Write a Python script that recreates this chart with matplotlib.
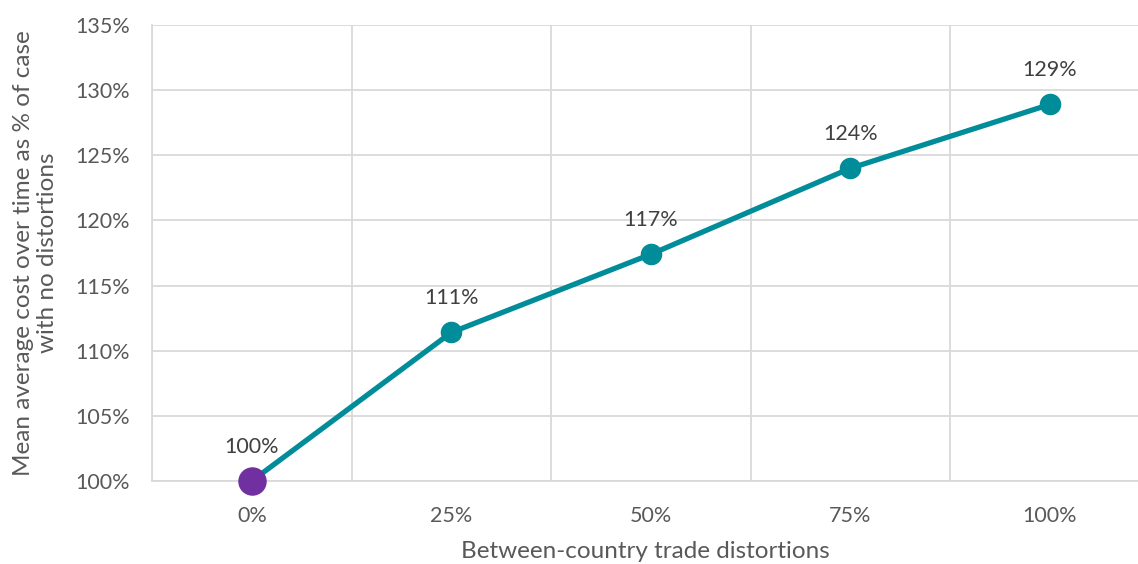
import matplotlib
matplotlib.use("Agg")
import matplotlib.pyplot as plt
from matplotlib.ticker import FuncFormatter, MultipleLocator

plt.rcParams['font.family'] = ['Lato', 'DejaVu Sans']

categories = ["0%", "25%", "50%", "75%", "100%"]
cost_pct = [100.0, 111.4, 117.4, 124.0, 128.9]

teal = "#008C99"
purple = "#7030A0"
grid_col = "#D9D9D9"
tick_col = "#595959"
label_col = "#404040"

fig = plt.figure(figsize=(11.38, 5.64), dpi=100)
W, H = 1138, 564
ax = fig.add_axes([152 / W, (H - 481) / H, (W - 152) / W, (481 - 25) / H])

x = list(range(len(categories)))
ax.plot(x, cost_pct, color=teal, lw=3.8, zorder=3, solid_capstyle="round", clip_on=False)
ax.plot(x[1:], cost_pct[1:], "o", color=teal, ms=14.5, zorder=4, clip_on=False)
ax.plot(x[:1], cost_pct[:1], "o", color=purple, ms=19.5, zorder=5, clip_on=False)

for xi, v in zip(x, cost_pct):
    ax.annotate(f"{round(v):.0f}%", (xi, v), xytext=(0, 24.5), textcoords="offset points",
                ha="center", va="center", fontsize=15.5, color=label_col)

ax.set_xlim(-0.5, -0.5 + (W - 152) / 199.5)
ax.set_ylim(100, 135)
ax.yaxis.set_major_locator(MultipleLocator(5))
ax.yaxis.set_major_formatter(FuncFormatter(lambda v, p: f"{v:.0f}%"))
ax.set_xticks(x)
ax.set_xticklabels(categories)
ax.set_xticks([i + 0.5 for i in range(-1, len(categories) - 1)], minor=True)

ax.grid(True, axis="y", which="major", color=grid_col, lw=1.3)
ax.grid(True, axis="x", which="minor", color=grid_col, lw=1.3)
ax.set_axisbelow(True)
for side in ("top", "right"):
    ax.spines[side].set_visible(False)
for side in ("left", "bottom"):
    ax.spines[side].set_color(grid_col)
    ax.spines[side].set_linewidth(1.3)
ax.tick_params(axis="both", which="both", length=0, labelsize=15.5, colors=tick_col)
ax.tick_params(axis="x", pad=18)
ax.tick_params(axis="y", pad=16)

ax.set_xlabel("Between-country trade distortions", fontsize=17.5, color=tick_col, labelpad=11)
ax.set_ylabel("Mean average cost over time as % of case\nwith no distortions",
              fontsize=17.5, color=tick_col, labelpad=12, linespacing=1.2)

fig.savefig("out.png", dpi=100)
